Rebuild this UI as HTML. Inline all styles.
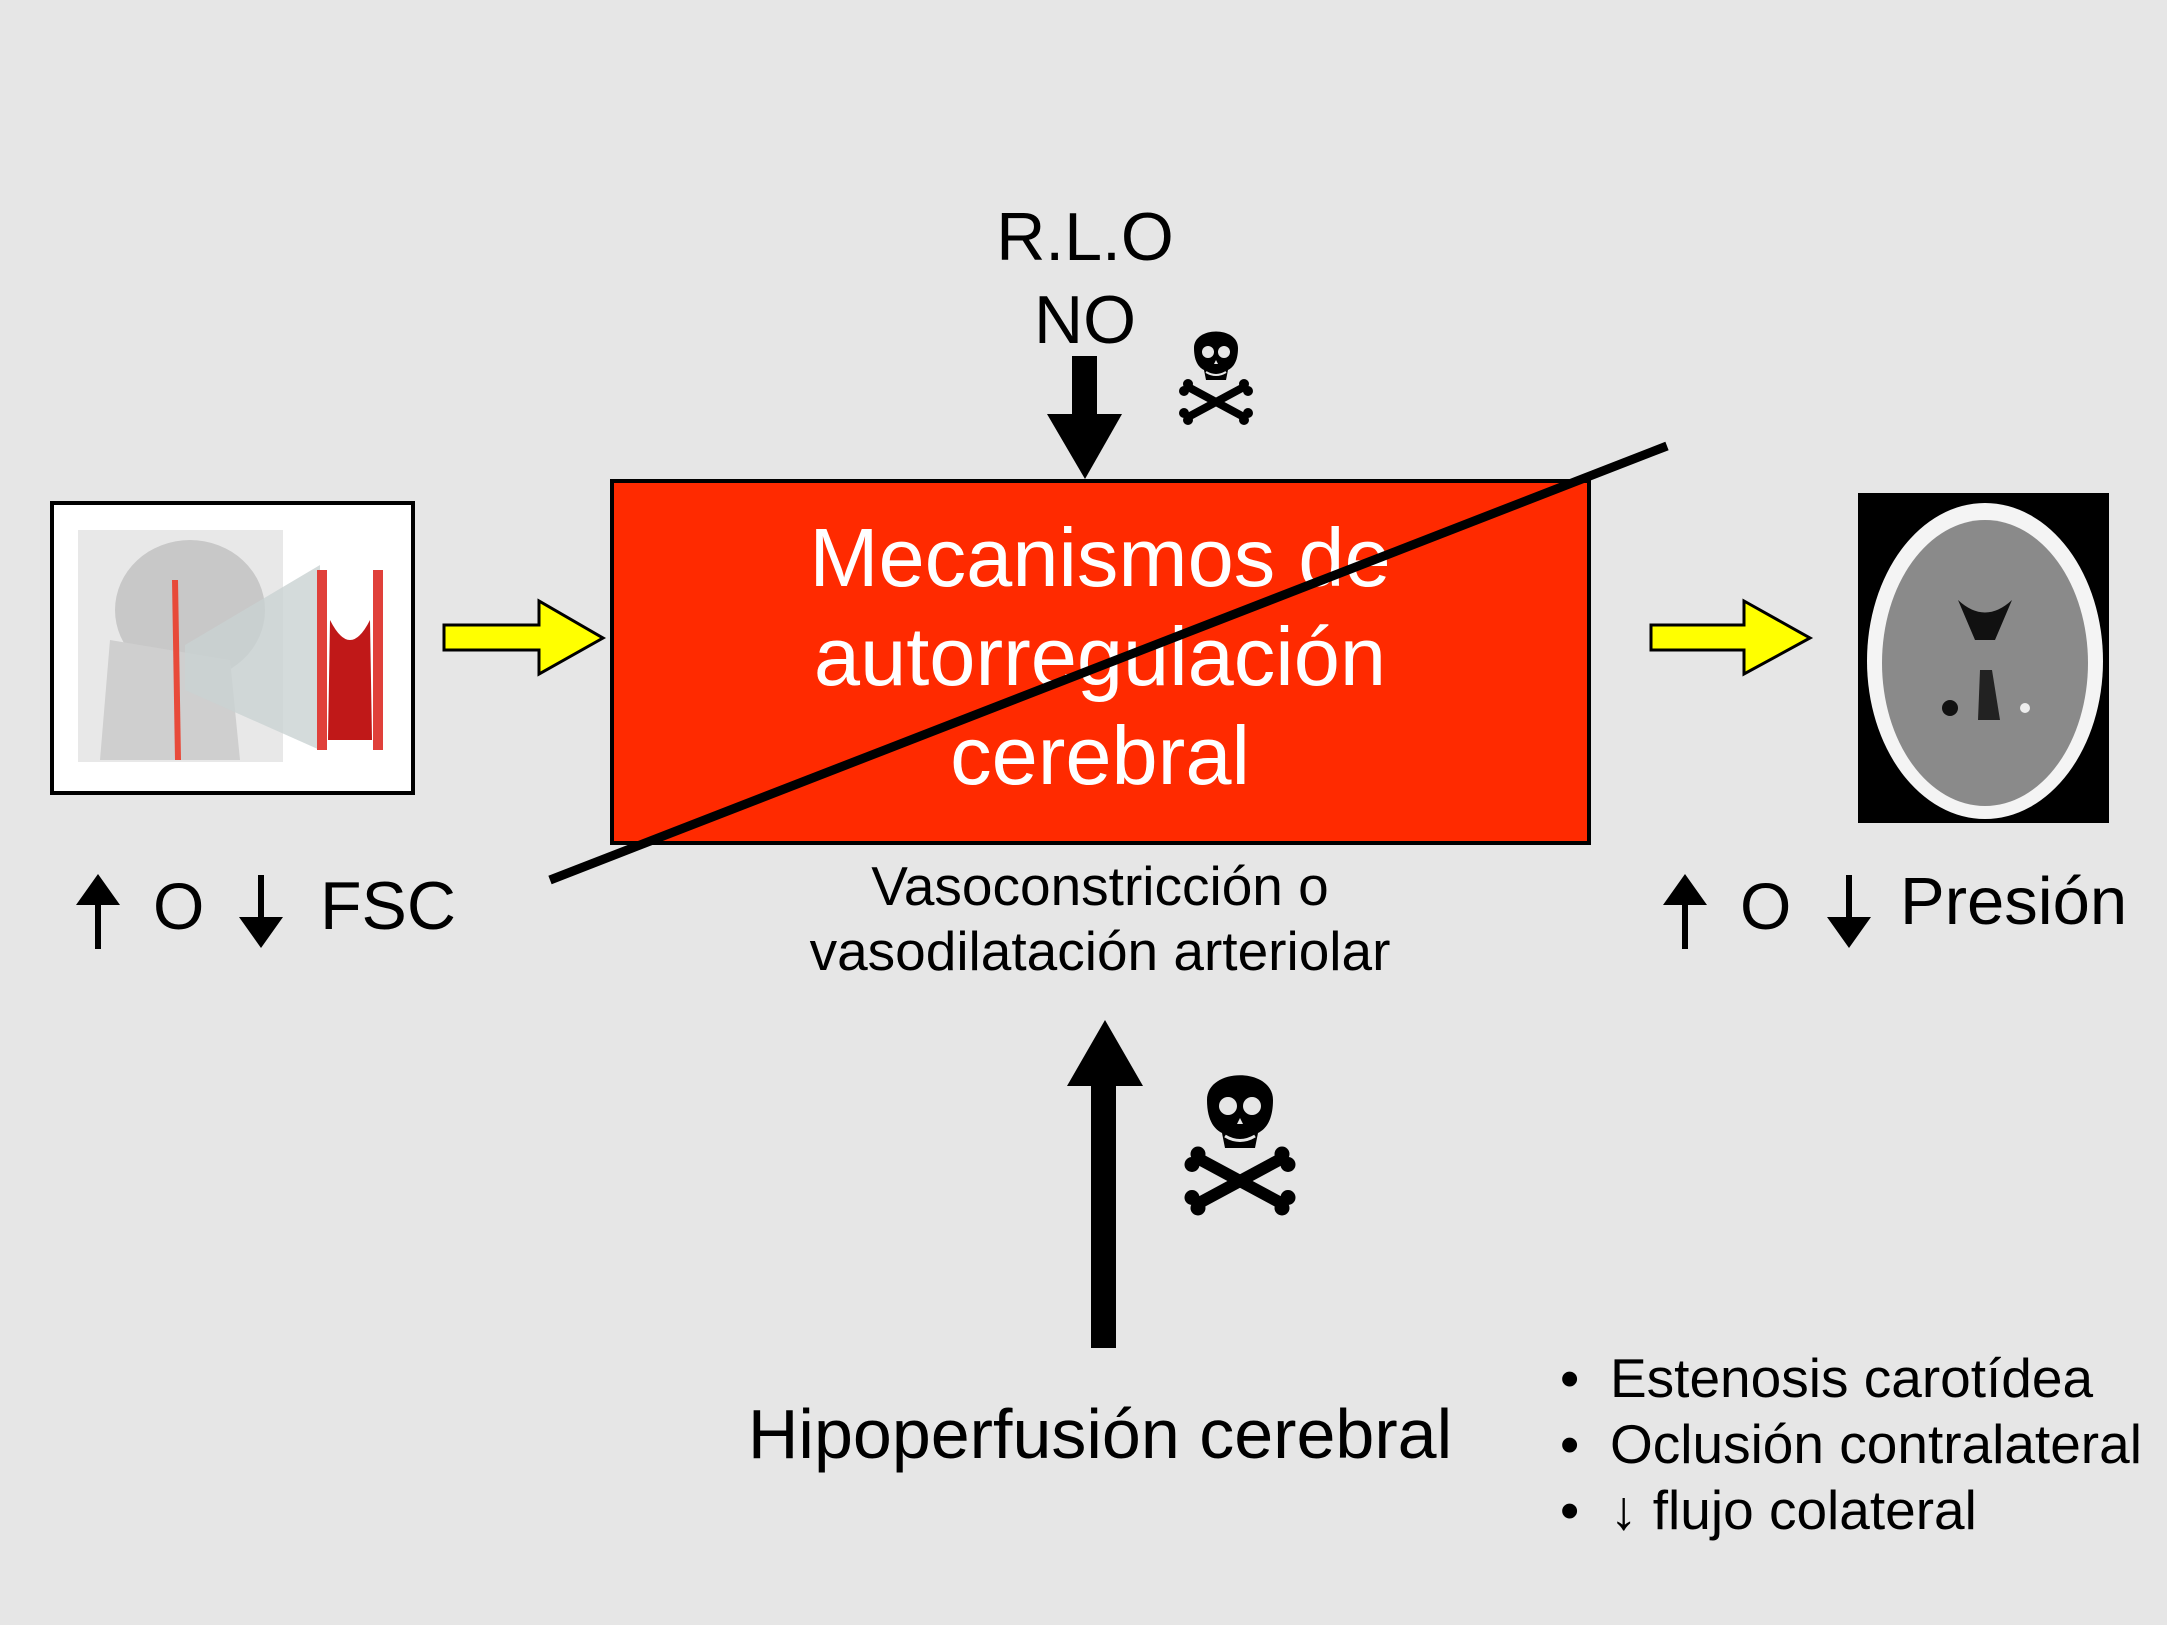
<!DOCTYPE html>
<html><head><meta charset="utf-8"><style>
html,body{margin:0;padding:0;background:#e6e6e6}
svg{display:block}
text{font-family:"Liberation Sans",Arial,sans-serif}
</style></head><body>
<svg width="2167" height="1625" viewBox="0 0 2167 1625" xmlns="http://www.w3.org/2000/svg">
<defs>
<g id="skull">
<path d="M-22,-40 C-22,-62 22,-62 22,-40 C22,-25 16,-20 12,-18 L10,-8 L-10,-8 L-12,-18 C-16,-20 -22,-25 -22,-40 Z" fill="#000"/>
<circle cx="-8" cy="-36" r="6" fill="#e6e6e6"/>
<circle cx="8" cy="-36" r="6" fill="#e6e6e6"/>
<path d="M-2,-24 L2,-24 L0,-28 Z" fill="#e6e6e6"/>
<path d="M-10,-16 Q0,-10 10,-16" stroke="#e6e6e6" stroke-width="2" fill="none"/>
<line x1="-26" y1="0" x2="26" y2="28" stroke="#000" stroke-width="8" stroke-linecap="round"/>
<line x1="26" y1="0" x2="-26" y2="28" stroke="#000" stroke-width="8" stroke-linecap="round"/>
<circle cx="-28" cy="-4" r="5"/><circle cx="-32" cy="3" r="5"/>
<circle cx="28" cy="-4" r="5"/><circle cx="32" cy="3" r="5"/>
<circle cx="-28" cy="32" r="5"/><circle cx="-32" cy="25" r="5"/>
<circle cx="28" cy="32" r="5"/><circle cx="32" cy="25" r="5"/>
</g>
</defs>
<rect width="2167" height="1625" fill="#e6e6e6"/>

<!-- left image -->
<rect x="52" y="503" width="361" height="290" fill="#fff" stroke="#000" stroke-width="4"/>
<rect x="78" y="530" width="205" height="232" fill="#e8e8e8"/>
<ellipse cx="190" cy="610" rx="75" ry="70" fill="#c8c8c8"/>
<path d="M110,640 L100,760 L240,760 L230,660 Z" fill="#cfcfcf"/>
<path d="M175,580 L178,760" stroke="#e84a3a" stroke-width="6" fill="none"/>
<polygon points="185,645 320,565 320,750 185,690" fill="#c9d2d2" opacity="0.8"/>
<path d="M322,570 L322,750 M378,570 L378,750" stroke="#e0403a" stroke-width="10"/>
<path d="M330,620 Q350,660 370,620 L372,740 L328,740 Z" fill="#c01818"/>

<!-- yellow arrows -->
<polygon points="444,625 539,625 539,601 603,638 539,674 539,650 444,650" fill="#ffff00" stroke="#000" stroke-width="3"/>
<polygon points="1651,625 1744,625 1744,601 1810,638 1744,674 1744,650 1651,650" fill="#ffff00" stroke="#000" stroke-width="3"/>

<!-- red box -->
<rect x="612" y="481" width="977" height="362" fill="#ff2a00" stroke="#000" stroke-width="4"/>
<text x="1100" y="586" font-size="83" fill="#fff" text-anchor="middle">Mecanismos de</text>
<text x="1100" y="685" font-size="83" fill="#fff" text-anchor="middle">autorregulación</text>
<text x="1100" y="784" font-size="83" fill="#fff" text-anchor="middle">cerebral</text>
<line x1="550" y1="880" x2="1667" y2="446" stroke="#000" stroke-width="9"/>

<!-- top -->
<text x="1085" y="260" font-size="68" text-anchor="middle">R.L.O</text>
<text x="1085" y="343" font-size="68" text-anchor="middle">NO</text>
<rect x="1072" y="356" width="25" height="60" fill="#000"/>
<polygon points="1047,414 1122,414 1085,479" fill="#000"/>
<g transform="translate(1216,388) scale(1.0)"><use href="#skull"/></g>

<!-- brain -->
<rect x="1858" y="493" width="251" height="330" fill="#000"/>
<ellipse cx="1985" cy="661" rx="118" ry="158" fill="#f4f4f4"/>
<ellipse cx="1985" cy="663" rx="103" ry="143" fill="#8a8a8a"/>
<path d="M1958,600 Q1985,625 2012,600 L1995,640 L1975,640 Z" fill="#111"/>
<path d="M1980,670 L1992,670 L2000,720 L1978,720 Z" fill="#222"/>
<circle cx="1950" cy="708" r="8" fill="#111"/><circle cx="2025" cy="708" r="5" fill="#eee"/>

<!-- below box -->
<text x="1100" y="905" font-size="55" text-anchor="middle">Vasoconstricción o</text>
<text x="1100" y="970" font-size="55" text-anchor="middle">vasodilatación arteriolar</text>

<!-- left label -->
<polygon points="76,905 120,905 98,874" fill="#000"/><rect x="95" y="903" width="6" height="46" fill="#000"/>
<text x="153" y="929" font-size="66">O</text>
<rect x="258" y="875" width="6" height="44" fill="#000"/><polygon points="239,917 283,917 261,948" fill="#000"/>
<text x="320" y="929" font-size="68">FSC</text>

<!-- right label -->
<polygon points="1663,905 1707,905 1685,874" fill="#000"/><rect x="1682" y="903" width="6" height="46" fill="#000"/>
<text x="1740" y="929" font-size="66">O</text>
<rect x="1846" y="875" width="6" height="44" fill="#000"/><polygon points="1827,917 1871,917 1849,948" fill="#000"/>
<text x="1900" y="924" font-size="67">Presión</text>

<!-- bottom arrow -->
<polygon points="1067,1086 1143,1086 1105,1020" fill="#000"/>
<rect x="1091" y="1084" width="25" height="264" fill="#000"/>
<g transform="translate(1240,1160) scale(1.5)"><use href="#skull"/></g>

<text x="1100" y="1458" font-size="70" text-anchor="middle">Hipoperfusión cerebral</text>

<g font-size="55">
<text x="1560" y="1397">•</text><text x="1610" y="1397">Estenosis carotídea</text>
<text x="1560" y="1463">•</text><text x="1610" y="1463">Oclusión contralateral</text>
<text x="1560" y="1529">•</text><text x="1610" y="1529">↓ flujo colateral</text>
</g>
</svg>
</body></html>
